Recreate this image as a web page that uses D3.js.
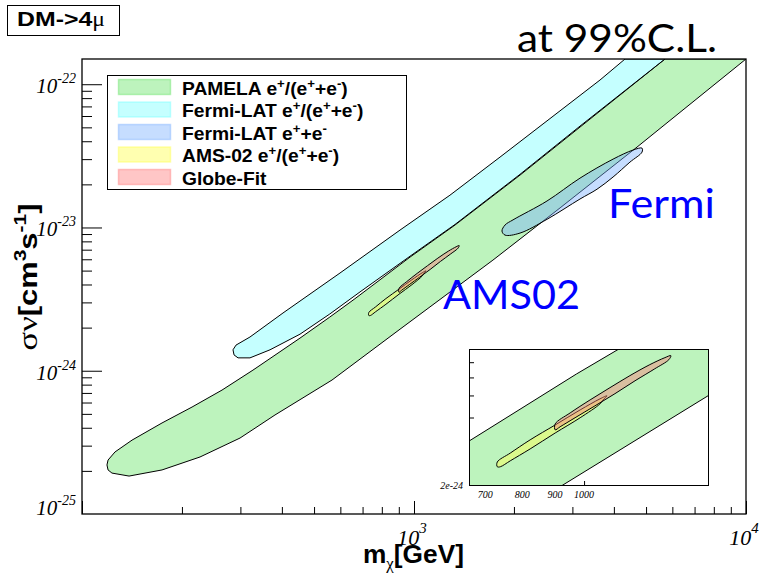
<!DOCTYPE html>
<html><head><meta charset="utf-8">
<script src="https://cdn.jsdelivr.net/npm/d3@7/dist/d3.min.js"></script>
<style>html,body{margin:0;padding:0;background:#fff;}svg{display:block}</style>
</head><body>
<svg id="chart" width="763" height="575" xmlns="http://www.w3.org/2000/svg"></svg>
<script>
// ---------------- data (mass in GeV, <σv> in cm^3 s^-1) ----------------
const xDomain = [100, 10000];
const yDomain = [1e-25, 1.5e-22];
const xLabelValues = [1000, 10000];
const xLabelExps = ["3", "4"];
const yLabelValues = [1e-22, 1e-23, 1e-24, 1e-25];
const yLabelExps = ["-22", "-23", "-24", "-25"];

// PAMELA e+/(e+ + e-) allowed band (closed outline)
const pamelaMass = [119.8, 118.9, 119.8, 125.7, 141.5, 174.2, 214.5, 264.1, 327.3, 453.6, 557.7, 660, 972.7, 1329, 2086, 3162, 5702, 10000,
                    4696, 2754, 1729, 907.5, 566.2, 381.3, 299.2, 226.7, 174.2, 138.6, 123.1];
const pamelaSv   = [2.03e-25, 2.20e-25, 2.38e-25, 2.71e-25, 3.28e-25, 4.32e-25, 5.58e-25, 7.33e-25, 1.01e-24, 1.69e-24, 2.37e-24, 3.15e-24, 6.21e-24, 1.04e-23, 2.32e-23, 5.02e-23, 1.5e-22, 1.5e-22,
                    3.64e-23, 1.37e-23, 5.92e-24, 1.95e-24, 8.61e-25, 4.91e-25, 3.39e-25, 2.50e-25, 2.03e-25, 1.84e-25, 1.93e-25];

// Fermi-LAT e+/(e+ + e-) band
const fermiRatioMass = [285.0, 291.0, 320.6, 403.1, 598.5, 907.5, 1283, 1816, 3633, 4321, 5702,
                        3162, 2086, 1329, 972.7, 687.7, 557.7, 453.6, 368.4, 320.6, 295.1, 287.0];
const fermiRatioSv   = [1.40e-24, 1.51e-24, 1.72e-24, 2.53e-24, 4.81e-24, 9.59e-24, 1.68e-23, 3.10e-23, 1.07e-22, 1.5e-22, 1.5e-22,
                        5.10e-23, 2.35e-23, 1.05e-23, 6.3e-24, 3.55e-24, 2.49e-24, 1.80e-24, 1.40e-24, 1.23e-24, 1.23e-24, 1.29e-24];

// Fermi-LAT e+ + e- region
const fermiSumMass = [1841, 1880, 1987, 2515, 3162, 3977, 4566, 4862, 4862, 4472, 3977, 3558, 3162, 2515, 2086, 1880];
const fermiSumSv   = [9.44e-24, 1.04e-23, 1.13e-23, 1.53e-23, 2.21e-23, 3.00e-23, 3.47e-23, 3.58e-23, 3.36e-23, 2.86e-23, 2.25e-23, 1.85e-23, 1.58e-23, 1.14e-23, 9.14e-24, 8.85e-24];

// AMS-02 e+/(e+ + e-) region
const amsMass = [731, 766, 823, 901, 986, 1059, 1086, 1071, 1059, 986, 901, 823, 766, 739, 731];
const amsSv   = [2.55e-24, 2.79e-24, 3.19e-24, 3.71e-24, 4.32e-24, 4.83e-24, 4.98e-24, 4.78e-24, 4.59e-24, 3.99e-24, 3.42e-24, 2.91e-24, 2.58e-24, 2.43e-24, 2.43e-24];

// Globe-Fit region
const globeMass = [901, 951, 1022, 1098, 1180, 1268, 1339, 1368, 1358, 1291, 1202, 1118, 1040, 968, 917, 901];
const globeSv   = [3.75e-24, 4.19e-24, 4.78e-24, 5.41e-24, 6.11e-24, 6.83e-24, 7.33e-24, 7.48e-24, 7.18e-24, 6.55e-24, 5.80e-24, 5.09e-24, 4.50e-24, 3.99e-24, 3.64e-24, 3.53e-24];

// inset
const insetXDomain = [660, 1570];
const insetYDomain = [2e-24, 8e-24];
const insetXLabels = [700, 800, 900, 1000];
const insetXTicks = [1000];
const insetYTicks = [4e-24, 5e-24, 6e-24, 7e-24];
const insetYLabelValue = 2e-24;
const insetYLabelText = "2e-24";

const legendLabels = ["PAMELA e^{+}/(e^{+}+e^{-})", "Fermi-LAT e^{+}/(e^{+}+e^{-})", "Fermi-LAT e^{+}+e^{-}", "AMS-02 e^{+}/(e^{+}+e^{-})", "Globe-Fit"];

// ---------------- styles ----------------
const fills = {
  pamela: "rgba(90,225,90,0.40)",
  fermiRatio: "rgba(110,255,255,0.40)",
  fermiSum: "rgba(120,175,255,0.42)",
  ams: "rgba(255,255,90,0.48)",
  globe: "rgba(255,120,120,0.42)"
};
const legendFills = [fills.pamela, fills.fermiRatio, fills.fermiSum, fills.ams, fills.globe];

const M = {l: 82, t: 59, r: 746, b: 514};
const svg = d3.select("#chart");
const defs = svg.append("defs");
defs.append("clipPath").attr("id", "clipMain").append("rect")
  .attr("x", M.l).attr("y", M.t).attr("width", M.r - M.l).attr("height", M.b - M.t);
const I = {l: 469, t: 349, r: 709, b: 486};
defs.append("clipPath").attr("id", "clipInset").append("rect")
  .attr("x", I.l).attr("y", I.t).attr("width", I.r - I.l).attr("height", I.b - I.t);

const x = d3.scaleLog().domain(xDomain).range([M.l, M.r]);
const y = d3.scaleLog().domain(yDomain).range([M.b, M.t]);
const ix = d3.scaleLog().domain(insetXDomain).range([I.l, I.r]);
const iy = d3.scaleLog().domain(insetYDomain).range([I.b, I.t]);

const regions = {
  pamela: {m: pamelaMass, s: pamelaSv, fill: fills.pamela, curve: d3.curveLinearClosed},
  fermiRatio: {m: fermiRatioMass, s: fermiRatioSv, fill: fills.fermiRatio, curve: d3.curveLinearClosed},
  fermiSum: {m: fermiSumMass, s: fermiSumSv, fill: fills.fermiSum, curve: d3.curveCatmullRomClosed.alpha(0.5)},
  ams: {m: amsMass, s: amsSv, fill: fills.ams, curve: d3.curveCatmullRomClosed.alpha(0.5)},
  globe: {m: globeMass, s: globeSv, fill: fills.globe, curve: d3.curveCatmullRomClosed.alpha(0.5)}
};

function drawRegions(g, sx, sy, keys) {
  keys.forEach(k => {
    const r = regions[k];
    const pts = r.m.map((m, i) => [m, r.s[i]]);
    const line = d3.line().x(d => sx(d[0])).y(d => sy(d[1])).curve(r.curve);
    g.append("path").attr("d", line(pts)).attr("fill", r.fill)
      .attr("stroke", "#000").attr("stroke-width", 1).attr("stroke-linejoin", "round");
  });
}

// main plot contents
const gMain = svg.append("g").attr("clip-path", "url(#clipMain)");
drawRegions(gMain, x, y, ["pamela", "fermiRatio", "fermiSum", "ams", "globe"]);

// frame
svg.append("rect").attr("x", M.l).attr("y", M.t).attr("width", M.r - M.l).attr("height", M.b - M.t)
  .attr("fill", "none").attr("stroke", "#000").attr("stroke-width", 1.3);

const isDecade = v => Math.abs(Math.log10(v) - Math.round(Math.log10(v))) < 1e-6;
function styleAxis(g) { g.select(".domain").remove(); g.selectAll("line").attr("stroke", "#000").attr("stroke-width", 1); }

// y axis ticks (inward)
const yMinor = y.ticks().filter(v => !isDecade(v));
const yMajor = y.ticks().filter(isDecade);
svg.append("g").attr("transform", `translate(${M.l},0)`)
  .call(d3.axisLeft(y).tickValues(yMinor).tickSize(-10).tickFormat("")).call(styleAxis);
svg.append("g").attr("transform", `translate(${M.l},0)`)
  .call(d3.axisLeft(y).tickValues(yMajor).tickSize(-20).tickFormat("")).call(styleAxis);
// x axis ticks (inward)
const xMinor = x.ticks().filter(v => !isDecade(v));
const xMajor = x.ticks().filter(isDecade);
svg.append("g").attr("transform", `translate(0,${M.b})`)
  .call(d3.axisBottom(x).tickValues(xMinor).tickSize(-7).tickFormat("")).call(styleAxis);
svg.append("g").attr("transform", `translate(0,${M.b})`)
  .call(d3.axisBottom(x).tickValues(xMajor).tickSize(-13).tickFormat("")).call(styleAxis);

// tick labels
const serif = "'Liberation Serif', 'DejaVu Serif', serif";
const sans = "'Liberation Sans', Arial, Helvetica, sans-serif";
yLabelValues.forEach((v, i) => {
  const t = svg.append("text").attr("x", 76).attr("y", Math.min(y(v) + 9, 515))
    .attr("text-anchor", "end").attr("font-family", serif).attr("font-style", "italic").attr("fill", "#000");
  t.append("tspan").attr("font-size", 21).text("10");
  t.append("tspan").attr("font-size", 14).attr("dy", -10).text(yLabelExps[i]);
});
xLabelValues.forEach((v, i) => {
  const t = svg.append("text").attr("x", x(v) - 2).attr("y", 545)
    .attr("text-anchor", "middle").attr("font-family", serif).attr("font-style", "italic").attr("fill", "#000");
  t.append("tspan").attr("font-size", 22).text("10");
  t.append("tspan").attr("font-size", 15).attr("dy", -12).text(xLabelExps[i]);
});

// rich text helper: ^{sup} and _{sub}
function addRich(t, str, size, smallSize, shift) {
  const parts = str.split(/([\^_]\{[^}]*\})/).filter(s => s.length);
  let cur = 0;
  parts.forEach(p => {
    const m = p.match(/^([\^_])\{([^}]*)\}$/);
    if (m) {
      const target = m[1] === "^" ? -shift : shift * 0.6;
      t.append("tspan").attr("font-size", smallSize).attr("dy", target - cur).text(m[2]);
      cur = target;
    } else {
      t.append("tspan").attr("font-size", size).attr("dy", -cur).text(p);
      cur = 0;
    }
  });
}
function fitX(t, target, ax) {
  const w = t.node().getBBox().width;
  const s = target / w;
  t.attr("transform", `translate(${ax},0) scale(${s},1) translate(${-ax},0)`);
}

// axis titles
const xt = svg.append("text").attr("x", 363).attr("y", 563).attr("font-family", sans)
  .attr("font-weight", "bold").attr("fill", "#000");
xt.append("tspan").attr("font-size", 25).text("m");
xt.append("tspan").attr("font-size", 16).attr("dy", 6).attr("font-family", serif).attr("font-weight", "normal").text("χ");
xt.append("tspan").attr("font-size", 25).attr("dy", -6).text("[GeV]");
fitX(xt, 101, 363);

const ytG = svg.append("g").attr("transform", "translate(37,277) rotate(-90)");
const yt = ytG.append("text").attr("x", 0).attr("y", 0).attr("text-anchor", "middle")
  .attr("font-family", sans).attr("font-weight", "bold").attr("fill", "#000");
yt.append("tspan").attr("font-family", serif).attr("font-weight", "normal").attr("font-size", 28).text("σν");
yt.append("tspan").attr("font-size", 25).text("[cm");
yt.append("tspan").attr("font-size", 17).attr("dy", -11).text("3");
yt.append("tspan").attr("font-size", 25).attr("dy", 11).text("s");
yt.append("tspan").attr("font-size", 17).attr("dy", -11).text("-1");
yt.append("tspan").attr("font-size", 25).attr("dy", 11).text("]");
{
  const w = yt.node().getBBox().width;
  yt.attr("transform", `scale(${147 / w},1)`);
}

// legend
const lg = svg.append("g");
lg.append("rect").attr("x", 107.5).attr("y", 75.5).attr("width", 299).attr("height", 114)
  .attr("fill", "#fff").attr("stroke", "#000").attr("stroke-width", 1);
legendLabels.forEach((lab, i) => {
  const cy = 87 + i * 22.5;
  lg.append("rect").attr("x", 118.5).attr("y", cy - 7.5).attr("width", 52).attr("height", 15)
    .attr("fill", legendFills[i]).attr("stroke", legendFills[i]).attr("stroke-width", 1.5);
  const t = lg.append("text").attr("x", 182).attr("y", cy + 8).attr("font-family", sans)
    .attr("font-weight", "bold").attr("fill", "#000");
  addRich(t, lab, 17.5, 12, 7);
  t.attr("transform", `translate(182,0) scale(1.1,1) translate(-182,0)`);
});

// inset
svg.append("rect").attr("x", I.l).attr("y", I.t).attr("width", I.r - I.l).attr("height", I.b - I.t).attr("fill", "#fff");
const gIn = svg.append("g").attr("clip-path", "url(#clipInset)");
drawRegions(gIn, ix, iy, ["pamela", "ams", "globe"]);
svg.append("rect").attr("x", I.l + 0.5).attr("y", I.t + 0.5).attr("width", I.r - I.l - 1).attr("height", I.b - I.t - 1)
  .attr("fill", "none").attr("stroke", "#000").attr("stroke-width", 1);
svg.append("g").attr("transform", `translate(${I.l},0)`)
  .call(d3.axisLeft(iy).tickValues(insetYTicks).tickSize(-5).tickFormat("")).call(styleAxis);
svg.append("g").attr("transform", `translate(0,${I.b})`)
  .call(d3.axisBottom(ix).tickValues(insetXTicks).tickSize(-5).tickFormat("")).call(styleAxis);
insetXLabels.forEach(v => {
  svg.append("text").attr("x", ix(v)).attr("y", 498).attr("text-anchor", "middle")
    .attr("font-family", serif).attr("font-style", "italic").attr("font-size", 10).attr("fill", "#000").text(v);
});
svg.append("text").attr("x", 463).attr("y", iy(insetYLabelValue) + 3).attr("text-anchor", "end")
  .attr("font-family", serif).attr("font-style", "italic").attr("font-size", 10).attr("fill", "#000").text(insetYLabelText);

// top-left label box
svg.append("rect").attr("x", 7.5).attr("y", 5.5).attr("width", 112).attr("height", 30)
  .attr("fill", "#fff").attr("stroke", "#000").attr("stroke-width", 1);
const dm = svg.append("text").attr("x", 17).attr("y", 26).attr("font-family", sans).attr("fill", "#000");
dm.append("tspan").attr("font-weight", "bold").attr("font-size", 21).text("DM->4");
dm.append("tspan").attr("font-family", serif).attr("font-size", 20).text("μ");
fitX(dm, 88, 17);

// annotations
const lato = "Lato, 'Open Sans', 'Liberation Sans', sans-serif";
const cl = svg.append("text").attr("x", 517).attr("y", 52).attr("font-family", lato).attr("font-size", 39)
  .attr("fill", "#000").text("at 99%C.L.");
fitX(cl, 200, 517);
const fe = svg.append("text").attr("x", 608).attr("y", 218).attr("font-family", lato).attr("font-size", 41)
  .attr("fill", "#0000ff").text("Fermi");
fitX(fe, 107, 608);
const am = svg.append("text").attr("x", 443).attr("y", 309).attr("font-family", lato).attr("font-size", 41)
  .attr("fill", "#0000ff").text("AMS02");
fitX(am, 137, 443);
</script>
</body></html>
